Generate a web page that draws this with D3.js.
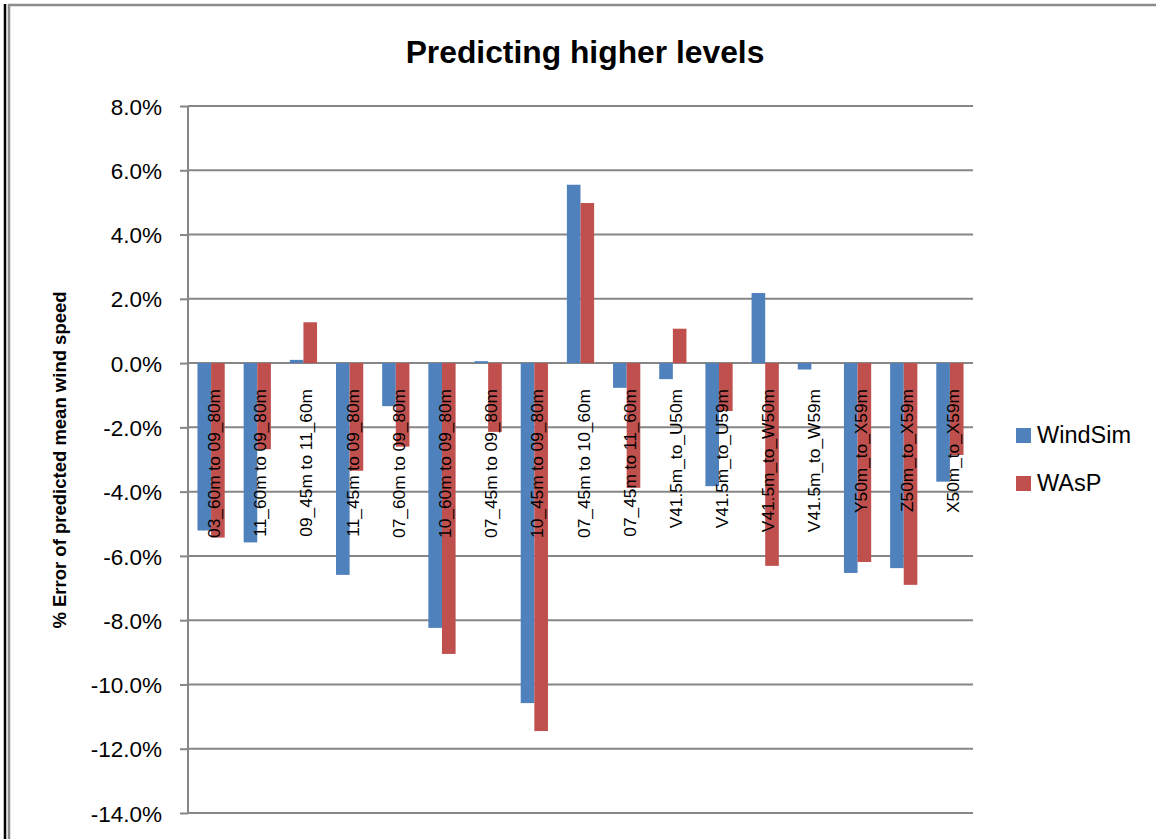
<!DOCTYPE html>
<html><head><meta charset="utf-8">
<script src="https://cdn.jsdelivr.net/npm/d3@7"></script>
<style>body{margin:0;background:#fff;}svg{display:block;font-family:"Liberation Sans",Arial,sans-serif;}</style>
</head><body>
<script>
const categories = ["03_60m to 09_80m","11_60m to 09_80m","09_45m to 11_60m","11_45m to 09_80m","07_60m to 09_80m","10_60m to 09_80m","07_45m to 09_80m","10_45m to 09_80m","07_45m to 10_60m","07_45m to 11_60m","V41.5m_to_U50m","V41.5m_to_U59m","V41.5m_to_W50m","V41.5m_to_W59m","Y50m_to_X59m","Z50m_to_X59m","X50m_to_X59m"];
const windSim = [-5.21,-5.58,0.10,-6.59,-1.34,-8.24,0.06,-10.58,5.55,-0.77,-0.50,-3.83,2.18,-0.20,-6.53,-6.38,-3.69];
const wasp = [-5.43,-2.68,1.27,-3.35,-2.60,-9.05,-2.14,-11.45,4.98,-3.88,1.07,-1.49,-6.31,0.00,-6.19,-6.90,-2.86];
const seriesNames = ["WindSim","WAsP"];
const colors = ["#4F81BD","#C0504D"];
const yTicks = [8,6,4,2,0,-2,-4,-6,-8,-10,-12,-14];

const W=1156,H=839;
const svg=d3.select("body").append("svg").attr("width",W).attr("height",H);
// frame
svg.append("rect").attr("x",9).attr("y",5).attr("width",1160).attr("height",850).attr("fill","#fff").attr("stroke","#8c8c8c").attr("stroke-width",2.5);
svg.append("line").attr("x1",5).attr("x2",5).attr("y1",4).attr("y2",H).attr("stroke","#000").attr("stroke-width",2.5);

const x=d3.scaleBand().domain(categories).range([188,973]).paddingInner(0.41).paddingOuter(0.205);
const x1=d3.scaleBand().domain(seriesNames).range([0,x.bandwidth()]);
const y=d3.scaleLinear().domain([-14,8]).range([813,106]);

// gridlines
svg.append("g").selectAll("line").data(yTicks).join("line")
 .attr("x1",188).attr("x2",973).attr("y1",d=>y(d)).attr("y2",d=>y(d))
 .attr("stroke","#868686").attr("stroke-width",2);

// y axis
const yAxis=d3.axisLeft(y).tickValues(yTicks).tickSize(8).tickPadding(18).tickFormat(d=>d.toFixed(1)+"%");
const ga=svg.append("g").attr("transform","translate(188,0)").call(yAxis);
ga.select(".domain").attr("stroke","#868686").attr("stroke-width",2).attr("d","M0,"+y(8)+"V"+y(-14));
ga.selectAll(".tick line").attr("stroke","#868686").attr("stroke-width",2);
ga.selectAll(".tick text").attr("font-size",22.5).attr("fill","#000").attr("font-family","Liberation Sans, Arial, sans-serif").attr("dy","0.36em");

// bars
const data=categories.map((c,i)=>({c,vals:[windSim[i],wasp[i]]}));
const grp=svg.append("g").selectAll("g").data(data).join("g").attr("transform",d=>`translate(${x(d.c)},0)`);
grp.selectAll("rect").data(d=>d.vals.map((v,j)=>({v,s:seriesNames[j],j}))).join("rect")
 .attr("x",d=>x1(d.s)).attr("width",x1.bandwidth())
 .attr("y",d=>y(Math.max(0,d.v))).attr("height",d=>Math.abs(y(d.v)-y(0)))
 .attr("fill",d=>colors[d.j]);

// category labels
svg.append("g").selectAll("text").data(categories).join("text")
 .attr("transform",d=>`translate(${x(d)+x.bandwidth()/2+9},389) rotate(-90)`)
 .attr("text-anchor","end").attr("font-size",17.3).attr("fill","#000").text(d=>d);

// title
svg.append("text").attr("x",585).attr("y",63).attr("text-anchor","middle").attr("font-size",31.8).attr("font-weight","bold").text("Predicting higher levels");

// y title
svg.append("text").attr("transform","translate(66,460) rotate(-90)").attr("text-anchor","middle").attr("font-size",18.5).attr("font-weight","bold").text("% Error of predicted mean wind speed");

// legend
const lg=svg.append("g").selectAll("g").data(seriesNames).join("g").attr("transform",(d,i)=>`translate(1016,${428+i*48})`);
lg.append("rect").attr("width",15).attr("height",15).attr("fill",(d,i)=>colors[i]);
lg.append("text").attr("x",21).attr("y",15).attr("font-size",23.5).text(d=>d);
</script>
</body></html>
